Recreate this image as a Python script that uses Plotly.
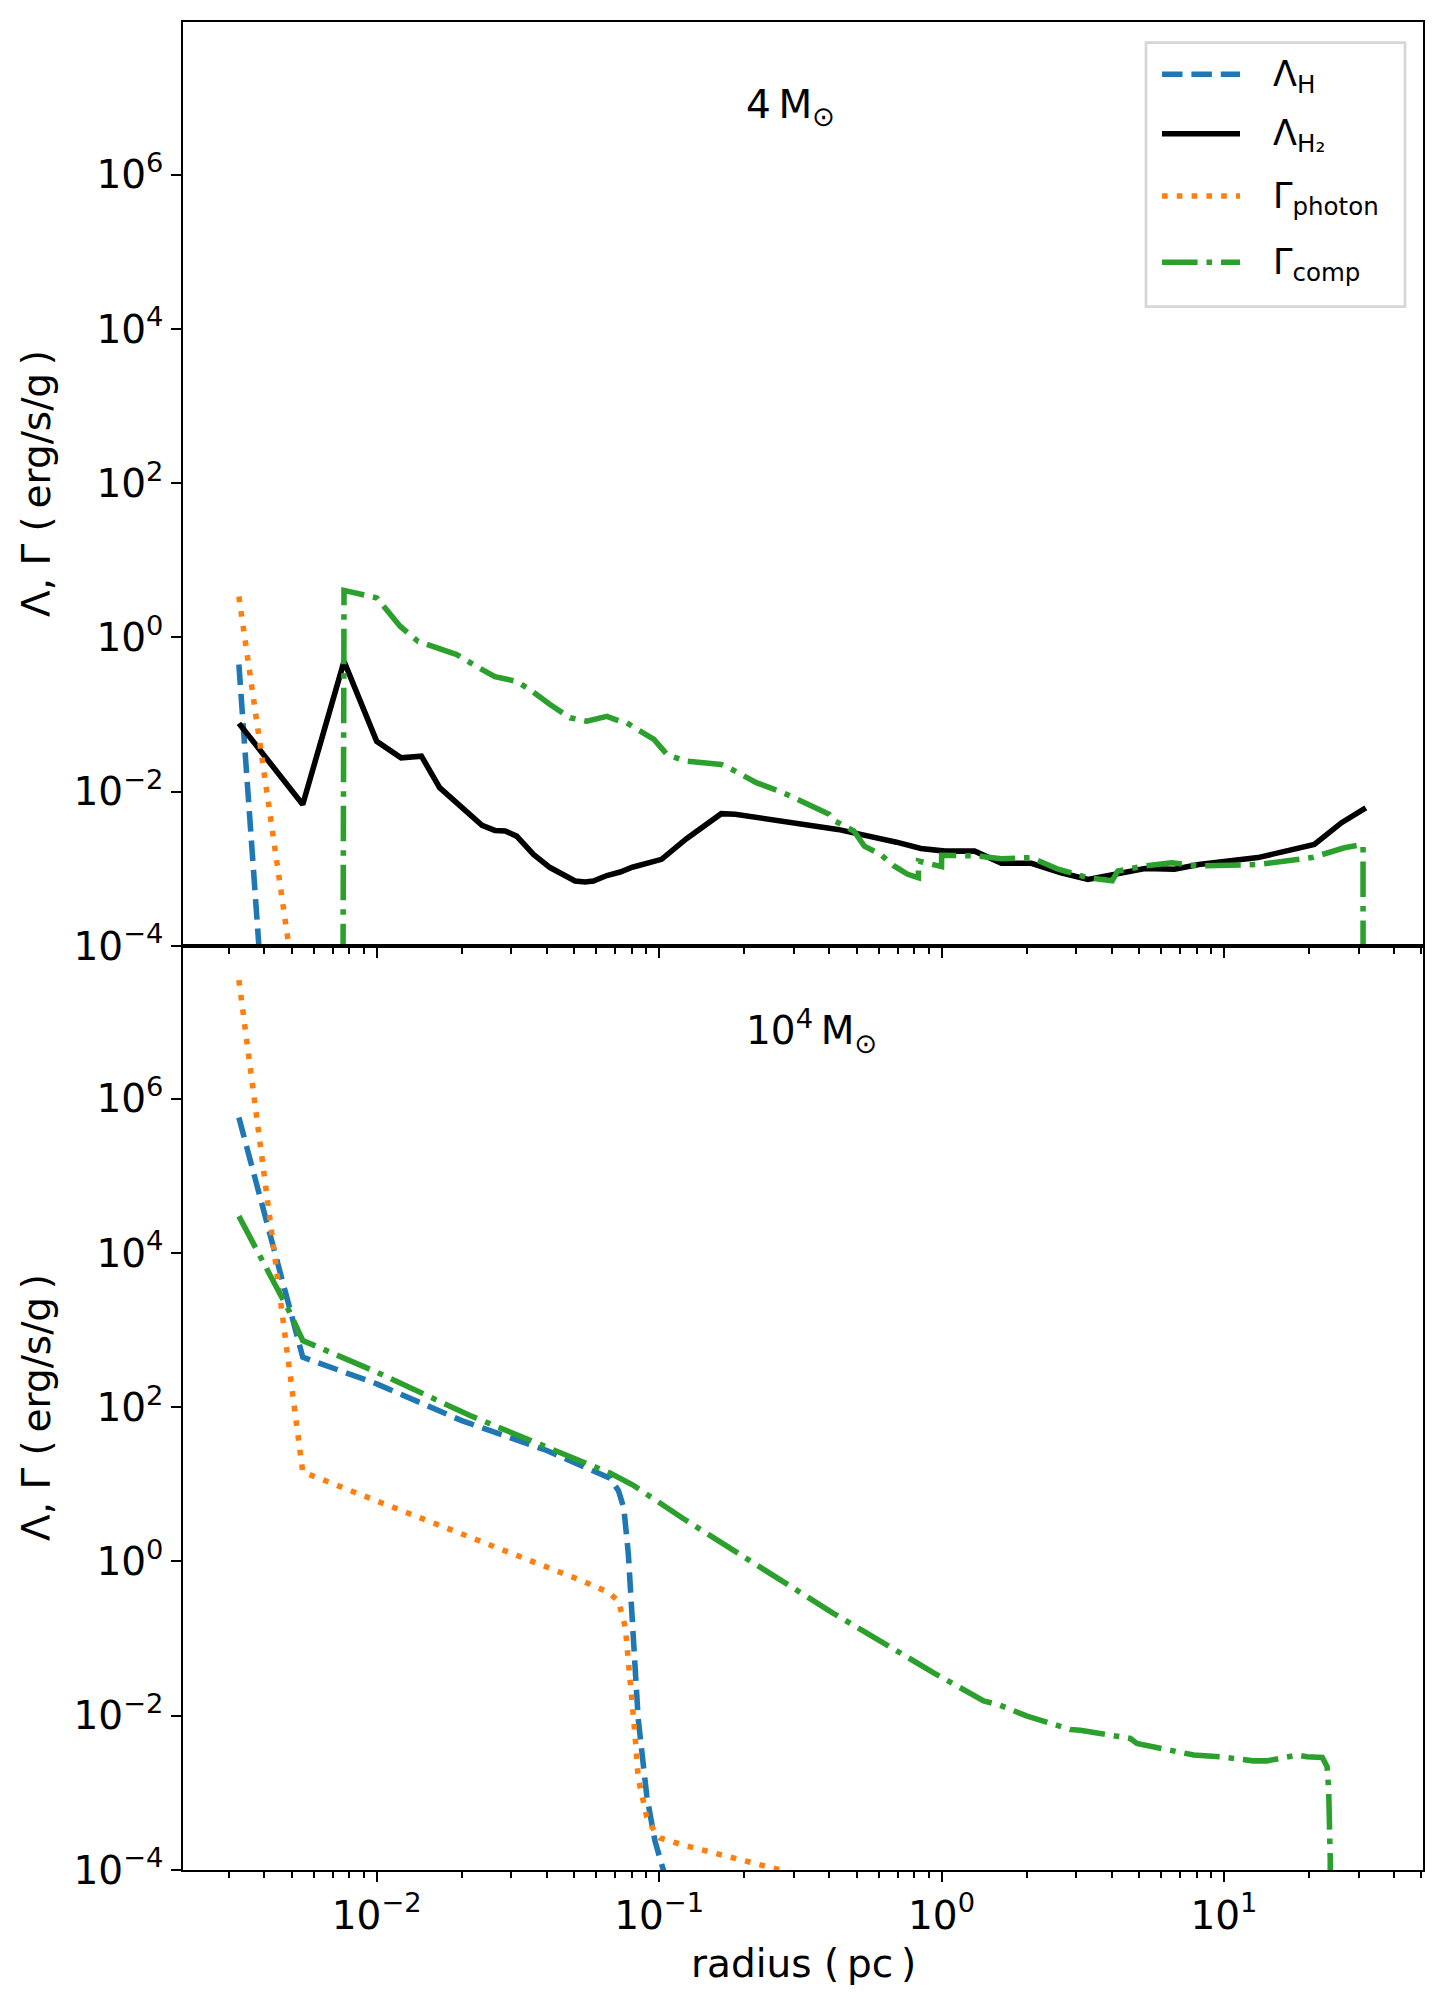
import numpy as np
import plotly.graph_objects as go
from plotly.subplots import make_subplots

# ---------------- data: 4 Msun run (top panel) ----------------
r_lamH_top = [0.00325, 0.00547]
lamH_top = [0.446, 1e-12]

r_lamH2_top = [0.00325, 0.00547, 0.00766, 0.0100, 0.0122, 0.0144, 0.0167, 0.0197,
               0.0236, 0.0262, 0.0285, 0.0313, 0.0359, 0.0411, 0.0440, 0.0504,
               0.0547, 0.0585, 0.0653, 0.0728, 0.0804, 0.102, 0.125, 0.166,
               0.186, 0.221, 0.288, 0.359, 0.429, 0.557, 0.693, 0.845, 1.03,
               1.31, 1.63, 2.08, 2.65, 3.30, 4.21, 5.25, 6.68, 8.15, 13.2,
               16.4, 20.9, 26.1, 31.8]
lamH2_top = [0.077, 0.00684, 0.49, 0.045, 0.0275, 0.0289, 0.0113, 0.0065,
             0.00366, 0.00315, 0.0031, 0.00266, 0.00154, 0.00104, 0.00091, 0.000695,
             0.000675, 0.000695, 0.00082, 0.00091, 0.00105, 0.00133, 0.00246, 0.0052,
             0.0051, 0.00469, 0.00408, 0.00358, 0.00325, 0.00266, 0.00222, 0.00184, 0.0017,
             0.0017, 0.00118, 0.00118, 0.00089, 0.00073, 0.00087, 0.00101, 0.00099, 0.00114, 0.0014,
             0.0017, 0.00208, 0.00397, 0.0062]

r_photon_top = [0.00325, 0.00547, 0.00766]
photon_top = [3.4, 3e-6, 1e-9]

r_comp_top = [0.00547, 0.00766, 0.0100, 0.0121, 0.0140, 0.0167, 0.0192, 0.0226,
              0.0262, 0.0313, 0.0349, 0.0411, 0.0484, 0.0555, 0.0653, 0.0728,
              0.0769, 0.0959, 0.107, 0.125, 0.166, 0.177, 0.221, 0.275, 0.343,
              0.400, 0.418, 0.489, 0.533, 0.608, 0.679, 0.759, 0.828, 0.829,
              1.00, 1.001, 1.34, 1.63, 2.08, 2.59, 3.30, 4.02, 4.21, 5.25,
              6.53, 8.15, 13.2, 20.5, 26.7, 31.1, 31.8]
comp_top = [1e-200, 4.08, 3.26, 1.40, 0.89, 0.70, 0.60, 0.42,
            0.31, 0.27, 0.21, 0.135, 0.091, 0.082, 0.095, 0.082,
            0.078, 0.0476, 0.030, 0.0249, 0.0226, 0.0204, 0.0131, 0.0097, 0.0065,
            0.0051, 0.0042, 0.0031, 0.00197, 0.00154, 0.00109, 0.00085, 0.00077, 0.00126,
            0.00107, 0.0015, 0.00147, 0.00135, 0.0014, 0.00099, 0.00077, 0.00070, 0.00094, 0.00109,
            0.0012, 0.00109, 0.00114, 0.0014, 0.00188, 0.00207, 1e-200]

# ---------------- data: 1e4 Msun run (bottom panel) ----------------
r_lamH_bot = [0.00325, 0.00547, 0.0100, 0.0200, 0.0400, 0.0670, 0.0718, 0.0750,
              0.0778, 0.0811, 0.0843, 0.0904, 0.0966, 0.1035, 0.110]
lamH_bot = [5.7e5, 446, 201, 67, 27.5, 12, 8.3, 4.9,
            1.26, 0.075, 0.0092, 9.2e-4, 2.4e-4, 1e-4, 3e-5]

r_photon_bot = [0.00325, 0.00547, 0.0100, 0.0200, 0.0411, 0.0525, 0.0660, 0.0718,
                0.0759, 0.0789, 0.0822, 0.0843, 0.0904, 0.0966, 0.1007, 0.122,
                0.160, 0.210, 0.275, 0.350]
photon_bot = [3.45e7, 14.5, 6.1, 2.3, 0.83, 0.575, 0.40, 0.307,
              0.14, 0.0324, 0.0055, 1.56e-3, 4.9e-4, 3.1e-4, 2.6e-4, 2.1e-4,
              1.64e-4, 1.27e-4, 9.8e-5, 7.5e-5]

r_comp_bot = [0.00325, 0.00492, 0.00547, 0.0100, 0.0214, 0.0411, 0.0670, 0.0811,
              0.122, 0.183, 0.275, 0.414, 0.624, 0.938, 1.41, 1.61, 2.01, 2.43,
              2.86, 3.10, 3.85, 4.66, 4.92, 6.11, 6.82, 7.82, 9.70, 12.7, 14.2,
              16.3, 18.2, 19.7, 22.3, 23.2, 23.5, 23.8, 24.2]
comp_bot = [3.0e4, 1700, 733, 285, 78, 29, 14, 9.7,
            3.58, 1.40, 0.546, 0.213, 0.0875, 0.036, 0.0156, 0.0137, 0.00989, 0.00794,
            0.00665, 0.0065, 0.0056, 0.00508, 0.00438, 0.00377, 0.0034, 0.00309, 0.00294, 0.0026, 0.0026,
            0.00288, 0.00309, 0.00294, 0.00288, 0.00218, 0.00109, 1.35e-4, 1e-200]

panel_labels = ["4\u2009M<sub>\u2299</sub>", "10<sup>4</sup>\u2009M<sub>\u2299</sub>"]
legend_labels = ["\u039b<sub>H</sub>", "\u039b<sub>H\u2082</sub>",
                 "\u0393<sub>photon</sub>", "\u0393<sub>comp</sub>"]
x_tickvals = [1e-2, 1e-1, 1e0, 1e1]
x_ticktext = ["10<sup>\u22122</sup>", "10<sup>\u22121</sup>", "10<sup>0</sup>", "10<sup>1</sup>"]
y_tickvals = [1e-4, 1e-2, 1e0, 1e2, 1e4, 1e6]
y_ticktext = ["10<sup>\u22124</sup>", "10<sup>\u22122</sup>", "10<sup>0</sup>",
              "10<sup>2</sup>", "10<sup>4</sup>", "10<sup>6</sup>"]

# ---------------- styling ----------------
W, H = 1446, 2003
OFF = 8  # page body margin that offsets the figure inside the browser window
# plot area in page pixels: x 183..1423, y 22..1870
ML, MR, MT, MB = 183 - OFF, W - 1423 + OFF, 22 - OFF, H - 1870 + OFF
FONT = "DejaVu Sans"
LW = 5.56
STYLES = [  # matching legend_labels order
    dict(color="#1f77b4", dash="20.5px,8.9px"),
    dict(color="black", dash="solid"),
    dict(color="#ff7f0e", dash="5.6px,9.2px"),
    dict(color="#2ca02c", dash="35.6px,8.9px,5.6px,8.9px"),
]


def px_x(x):  # page pixel -> paper fraction
    return (x - OFF - ML) / (W - ML - MR)


def px_y(y):
    return 1 - (y - OFF - MT) / (H - MT - MB)


fig = make_subplots(rows=2, cols=1, shared_xaxes=True, vertical_spacing=0)

panels = [
    (1, [(r_lamH_top, lamH_top, 0), (r_lamH2_top, lamH2_top, 1),
         (r_photon_top, photon_top, 2), (r_comp_top, comp_top, 3)]),
    (2, [(r_lamH_bot, lamH_bot, 0), (r_photon_bot, photon_bot, 2),
         (r_comp_bot, comp_bot, 3)]),
]
for row, series in panels:
    for r, v, k in series:
        st = STYLES[k]
        fig.add_trace(go.Scatter(x=r, y=v, mode="lines", showlegend=False, hoverinfo="skip",
                                 line=dict(color=st["color"], width=LW, dash=st["dash"])),
                      row=row, col=1)

x_minor = [m * 10.0 ** d for d in range(-3, 2) for m in range(2, 10)]
fig.update_xaxes(type="log", range=[-2.686, 1.705], showgrid=False, zeroline=False,
                 automargin=False,
                 showline=True, linecolor="black", linewidth=2.2, mirror=True,
                 ticks="outside", ticklen=9.7, tickwidth=2.2, tickcolor="black",
                 tickmode="array", tickvals=x_tickvals, ticktext=x_ticktext,
                 tickfont=dict(family=FONT, size=39, color="black"),
                 minor=dict(tickmode="array", tickvals=x_minor, ticks="outside",
                            ticklen=5.6, tickwidth=1.7, tickcolor="black", showgrid=False))
fig.update_xaxes(showticklabels=False, row=1, col=1)
fig.update_yaxes(type="log", range=[-4, 7.98], showgrid=False, zeroline=False,
                 automargin=False,
                 showline=True, linecolor="black", linewidth=2.2, mirror=True,
                 ticks="outside", ticklen=9.7, tickwidth=2.2, tickcolor="black",
                 tickmode="array", tickvals=y_tickvals, ticktext=y_ticktext,
                 tickfont=dict(family=FONT, size=39, color="black"))

annotations = []
for i, text in enumerate(panel_labels):
    sfx = "" if i == 0 else "2"
    annotations.append(dict(x=np.log10(0.2), y=6.88, xref="x" + sfx, yref="y" + sfx,
                            text=text, showarrow=False, xanchor="left", yanchor="middle",
                            font=dict(family=FONT, size=39, color="black")))
for yc in (0.75, 0.25):
    annotations.append(dict(x=px_x(36), y=yc, xref="paper", yref="paper",
                            text="\u039b, \u0393 (\u2009erg/s/g\u2009)", textangle=-90,
                            showarrow=False, xanchor="center", yanchor="middle",
                            font=dict(family=FONT, size=39, color="black")))
annotations.append(dict(x=0.5, y=px_y(1963), xref="paper", yref="paper",
                        text="radius (\u2009pc\u2009)", showarrow=False,
                        xanchor="center", yanchor="middle",
                        font=dict(family=FONT, size=39, color="black")))

# legend box drawn by hand (matplotlib style: long line samples)
shapes = [dict(type="rect", xref="paper", yref="paper",
               x0=px_x(1146), x1=px_x(1405), y0=px_y(306.7), y1=px_y(42.7),
               fillcolor="rgba(255,255,255,0.8)", line=dict(color="#d6d6d6", width=2.7))]
row_y = [74.3, 133.7, 196, 262.3]
for k, (lab, yy) in enumerate(zip(legend_labels, row_y)):
    st = STYLES[k]
    shapes.append(dict(type="line", xref="paper", yref="paper",
                       x0=px_x(1162), x1=px_x(1240), y0=px_y(yy), y1=px_y(yy),
                       line=dict(color=st["color"], width=LW, dash=st["dash"])))
    annotations.append(dict(x=px_x(1271), y=px_y(yy + 2), xref="paper", yref="paper",
                            text=lab, showarrow=False, xanchor="left", yanchor="middle",
                            font=dict(family=FONT, size=35, color="black")))

fig.update_layout(width=W, height=H, margin=dict(l=ML, r=MR, t=MT, b=MB, autoexpand=False),
                  paper_bgcolor="white", plot_bgcolor="white", showlegend=False,
                  font=dict(family=FONT, color="black"),
                  annotations=annotations, shapes=shapes)

fig.write_html("out.html")
